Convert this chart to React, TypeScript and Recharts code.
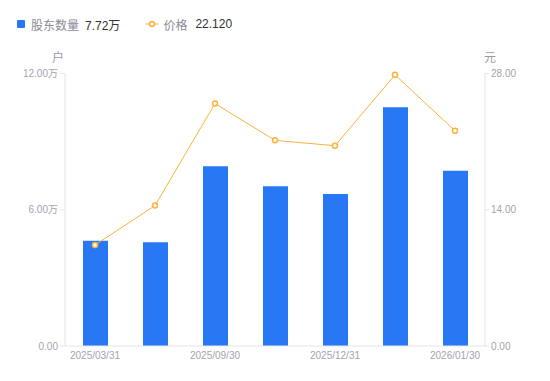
import React from 'react';
import { ComposedChart, Bar, Line, XAxis, YAxis } from 'recharts';

const dates = ['2025/03/31', '2025/06/30', '2025/09/30', '2025/11/28', '2025/12/31', '2026/01/20', '2026/01/30'];
// 股东数量 (户)
const holders = [46400, 45700, 79200, 70400, 66900, 105100, 77200];
// 价格 (元)
const prices = [10.38, 14.43, 24.91, 21.13, 20.58, 27.86, 22.12];

const leftTicks = [0, 60000, 120000];
const rightTicks = [0, 14, 28];

const BLUE = '#2878f5';
const ORANGE = '#fbb33a';
const FONT = '"Liberation Sans", "Noto Sans CJK SC", sans-serif';

const data = dates.map((d, i) => ({ date: d, holders: holders[i], price: prices[i] }));

const fmtWan = (v: number) => (v === 0 ? '0.00' : `${(v / 10000).toFixed(2)}万`);

// unit caption above an axis; anchorX is an offset from the axis line
const UnitLabel = ({ viewBox, value, side }: any) => {
  const x = side === 'left' ? viewBox.x + viewBox.width - 7 : viewBox.x + 5;
  return (
    <text x={x} y={viewBox.y - 12} fill="#9a9aa6" fontSize={12} textAnchor="middle">
      {value}
    </text>
  );
};

export default function App() {
  const lastHolders = holders[holders.length - 1];
  const lastPrice = prices[prices.length - 1];
  return (
    <div style={{ position: 'absolute', left: 0, top: 0, width: 550, height: 381, fontFamily: FONT, background: '#fff' }}>
      <div style={{ position: 'absolute', left: 17, top: 16, height: 16, display: 'flex', alignItems: 'center', fontSize: 12 }}>
        <span style={{ width: 8, height: 8, background: BLUE, borderRadius: 1, marginRight: 6 }} />
        <span style={{ color: '#8a8a96' }}>股东数量</span>
        <span style={{ color: '#333', marginLeft: 6 }}>{fmtWan(lastHolders)}</span>
        <svg width={12} height={8} style={{ marginLeft: 26, marginRight: 5 }}>
          <line x1={0} y1={4} x2={12} y2={4} stroke={ORANGE} strokeWidth={1} />
          <circle cx={6} cy={4} r={2.5} fill="#fff" stroke={ORANGE} strokeWidth={1.5} />
        </svg>
        <span style={{ color: '#8a8a96' }}>价格</span>
        <span style={{ color: '#333', marginLeft: 8 }}>{lastPrice.toFixed(3)}</span>
      </div>
      <ComposedChart
        width={550}
        height={381}
        data={data}
        margin={{ top: 73.5, right: 0, bottom: 5, left: 0 }}
        style={{ fontFamily: FONT }}
      >
        <XAxis
          dataKey="date"
          interval={1}
          tickLine={false}
          axisLine={{ stroke: '#e4e4ea' }}
          tick={{ fontSize: 10, fill: '#a3a3ae' }}
          height={30}
          dy={-2}
        />
        <YAxis
          yAxisId="left"
          width={65}
          domain={[0, 120000]}
          ticks={leftTicks}
          tickFormatter={fmtWan}
          axisLine={{ stroke: '#e4e4ea' }}
          tickLine={{ stroke: '#e4e4ea' }}
          tickSize={5}
          tick={{ fontSize: 10, fill: '#a3a3ae' }}
          label={(props: any) => <UnitLabel {...props} value="户" side="left" />}
        />
        <YAxis
          yAxisId="right"
          orientation="right"
          width={65}
          domain={[0, 28]}
          ticks={rightTicks}
          tickFormatter={(v: number) => v.toFixed(2)}
          axisLine={{ stroke: '#e4e4ea' }}
          tickLine={{ stroke: '#e4e4ea' }}
          tickSize={4}
          tick={{ fontSize: 10, fill: '#a3a3ae' }}
          label={(props: any) => <UnitLabel {...props} value="元" side="right" />}
        />
        <Bar yAxisId="left" dataKey="holders" fill={BLUE} barSize={25} isAnimationActive={false} />
        <Line
          yAxisId="right"
          type="linear"
          dataKey="price"
          stroke={ORANGE}
          strokeWidth={1}
          dot={{ r: 2.5, fill: '#fff', stroke: ORANGE, strokeWidth: 1.5 }}
          isAnimationActive={false}
        />
      </ComposedChart>
    </div>
  );
}
